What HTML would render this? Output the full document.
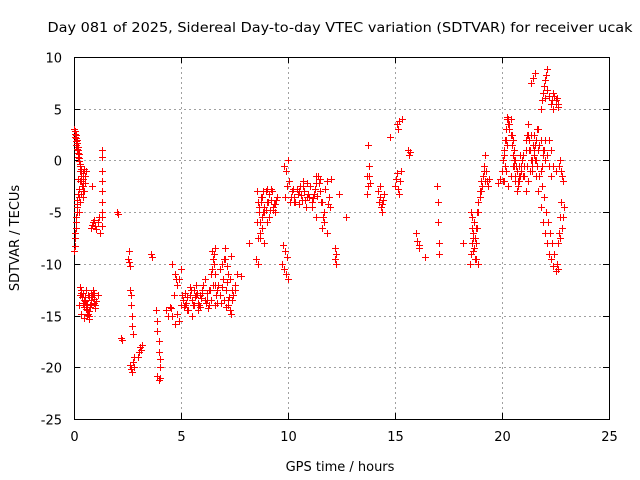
<!DOCTYPE html>
<html><head><meta charset="utf-8"><style>
html,body{margin:0;padding:0;background:#fff;width:640px;height:480px;overflow:hidden}
svg{display:block}
text{font-family:"DejaVu Sans","Liberation Sans",sans-serif;font-size:13px;fill:#000}
</style></head><body>
<svg id="chart" width="640" height="480" xmlns="http://www.w3.org/2000/svg">
<text x="340" y="32" text-anchor="middle" font-size="14" textLength="585" lengthAdjust="spacingAndGlyphs">Day 081 of 2025, Sidereal Day-to-day VTEC variation (SDTVAR) for receiver ucak</text>
<g id="grid"></g>
<g id="axes"></g>
<g id="marks"></g>
<text x="340" y="471" text-anchor="middle">GPS time / hours</text>
<text x="0" y="0" text-anchor="middle" transform="translate(19,238) rotate(-90)">SDTVAR / TECUs</text>
</svg>
<script>
const xTicks=[0,5,10,15,20,25];
const yTicks=[10,5,0,-5,-10,-15,-20,-25];
const hours=[0.02,0.05,0.08,0.1,0.12,0.15,0.18,0.2,0.22,0.25,0.3,0.35,0.4,0.45,0.5,0.55,
0.02,0.04,0.06,0.08,0.1,0.12,0.15,0.18,0.22,0.25,0.3,0.35,0.4,0.45,0.5,0.2,0.25,
0.25,0.3,0.35,0.4,0.45,0.5,0.55,0.6,0.65,0.7,0.75,0.8,0.85,0.9,0.95,1.0,1.05,1.1,0.3,0.35,0.45,0.6,0.7,0.8,
0.8,0.85,0.9,0.95,1.0,1.05,1.1,1.15,1.2,0.85,1.3,1.3,1.3,1.3,1.3,1.3,1.3,1.3,1.3,
2.0,2.05,2.2,2.25,2.5,2.55,2.55,2.6,2.6,2.65,2.65,2.7,2.7,2.75,2.6,2.65,2.7,2.75,2.8,2.8,3.0,3.05,3.1,3.15,3.2,3.6,3.65,
3.85,3.9,3.9,3.95,3.95,4.0,4.0,3.9,3.95,4.0,4.3,4.4,4.5,4.6,4.7,4.8,4.9,5.0,4.6,4.7,4.8,4.9,5.0,4.55,4.65,4.75,
5.1,5.2,5.3,5.4,5.5,5.6,5.7,5.8,5.9,6.0,6.1,6.2,6.3,6.4,6.5,6.6,6.7,6.8,6.9,7.0,7.1,7.2,7.3,7.4,7.5,
5.3,5.5,5.7,5.9,6.1,6.3,6.5,6.6,6.8,7.0,7.2,7.4,7.6,6.45,6.55,7.05,7.15,7.35,7.8,
8.2,8.5,8.6,8.7,8.8,8.9,9.0,8.55,8.65,8.75,8.85,8.95,9.1,9.2,9.3,9.4,9.5,8.6,8.8,9.0,9.2,9.4,
9.7,9.8,9.9,10.0,9.75,9.85,9.95,9.8,9.9,10.0,10.05,9.85,9.95,10.1,
10.2,10.3,10.4,10.5,10.6,10.7,10.8,10.9,11.0,11.1,11.2,11.3,11.4,11.5,11.6,11.7,11.8,11.9,12.0,
10.3,10.5,10.7,10.9,11.1,11.3,11.5,11.6,11.7,11.8,11.95,11.3,11.5,
12.2,12.2,12.25,12.25,12.4,12.7,13.7,13.7,13.75,13.75,13.8,13.85,13.8,
14.2,14.25,14.3,14.35,14.4,14.45,14.5,14.3,14.4,14.75,
15.0,15.05,15.1,15.15,15.2,15.25,15.3,15.1,15.15,15.2,15.35,15.6,15.65,15.7,
16.0,16.05,16.1,16.1,16.4,16.95,17.0,17.0,17.05,17.05,18.2,
18.5,18.55,18.6,18.65,18.7,18.75,18.8,18.85,18.9,18.95,19.0,18.6,18.7,18.8,18.9,19.05,19.1,19.15,19.2,19.25,19.3,19.35,19.4,18.55,18.65,
19.8,19.9,20.0,20.05,20.1,20.15,20.2,20.25,20.3,20.35,20.4,20.45,20.5,20.55,20.6,20.1,20.2,20.3,20.4,20.5,20.6,20.7,20.8,20.9,21.0,20.7,20.75,20.8,20.85,20.9,
21.0,21.05,21.1,21.15,21.2,21.25,21.3,21.35,21.4,21.45,21.5,21.55,21.6,21.1,21.2,21.3,21.4,21.5,21.6,21.7,21.8,21.9,22.0,
21.8,21.85,21.9,21.95,22.0,22.05,22.1,21.9,22.0,22.1,22.2,22.3,22.35,22.4,22.45,22.5,22.55,22.6,22.2,22.3,
21.6,21.7,21.8,21.9,22.0,22.1,22.2,22.3,22.4,22.5,22.6,22.7,22.8,22.85,22.9,22.65,22.7,22.75,22.8,22.85];
const sdtvar=[3.0,2.8,2.5,2.2,2.0,1.7,1.3,1.0,0.6,0.2,-0.3,-0.8,-1.2,-0.8,-1.5,-1.0,
-8.8,-8.3,-7.5,-6.5,-5.5,-4.5,-3.8,-3.2,-2.8,-3.5,-4.0,-3.2,-2.5,-3.0,-2.2,-1.8,-5.0,
-14.0,-13.0,-12.5,-12.8,-13.5,-13.2,-14.0,-14.5,-14.8,-15.0,-14.2,-13.5,-13.0,-12.5,-13.8,-14.3,-13.6,-13.0,-12.2,-14.8,-15.2,-14.0,-13.2,-12.8,
-6.5,-6.2,-6.0,-5.8,-6.3,-6.6,-6.0,-5.5,-7.0,-2.5,1.0,0.3,-1.0,-2.0,-3.0,-4.0,-5.0,-5.5,-6.3,
-5.0,-5.2,-17.2,-17.4,-9.5,-8.8,-9.8,-10.2,-12.5,-13.0,-14.0,-15.0,-16.0,-16.8,-19.8,-20.2,-20.5,-19.5,-19.0,-20.0,-19.0,-18.5,-18.0,-18.3,-17.8,-9.0,-9.3,
-14.5,-15.5,-16.5,-17.5,-18.5,-19.2,-20.0,-20.8,-21.2,-21.0,-14.5,-15.0,-14.2,-15.0,-15.8,-14.8,-15.5,-14.0,-10.0,-11.0,-12.0,-11.5,-10.5,-14.3,-13.0,-11.5,
-13.5,-12.8,-13.2,-12.2,-13.5,-14.0,-13.0,-13.8,-14.2,-12.5,-13.5,-12.8,-14.0,-13.5,-12.0,-11.0,-12.5,-13.0,-12.2,-13.5,-14.2,-14.0,-14.5,-13.5,-12.5,
-14.5,-15.0,-12.0,-13.0,-11.5,-12.5,-9.5,-8.5,-10.5,-9.5,-11.0,-12.5,-11.0,-8.8,-10.0,-8.5,-10.2,-9.2,-11.2,
-8.0,-9.5,-10.0,-7.5,-6.5,-5.0,-4.0,-6.0,-4.5,-3.5,-3.0,-4.8,-3.2,-3.8,-4.5,-4.2,-3.5,-7.5,-5.5,-6.0,-2.8,-5.0,
-10.0,-10.5,-11.0,-11.5,-8.2,-8.8,-9.3,-0.5,-1.0,0.0,-2.0,-3.5,-2.5,-4.0,
-3.0,-3.5,-2.8,-4.2,-3.3,-2.5,-3.8,-2.2,-3.5,-4.0,-3.2,-2.2,-1.5,-3.0,-4.0,-5.0,-2.0,-3.5,-1.8,
-4.0,-3.0,-2.0,-3.5,-4.5,-5.5,-3.0,-6.5,-6.0,-7.0,-4.5,-1.5,-1.8,
-8.5,-9.5,-9.0,-10.0,-3.2,-5.5,-3.2,-1.5,-2.5,1.5,-1.5,-2.2,-0.5,
-3.0,-4.0,-3.5,-4.5,-5.0,-3.8,-3.2,-2.5,-4.2,2.3,
-2.5,-1.8,-1.2,-2.8,-3.2,-2.0,-1.0,3.5,3.0,3.8,4.0,1.0,0.5,0.8,
-7.0,-7.8,-8.2,-8.5,-9.3,-2.5,-4.0,-6.0,-8.0,-9.0,-8.0,
-10.0,-9.0,-8.0,-7.0,-6.0,-7.5,-6.5,-5.0,-4.0,-3.0,-2.0,-5.5,-8.5,-9.5,-10.0,-2.5,-1.5,-0.5,0.5,-1.0,-2.0,-2.5,-1.8,-5.0,-8.8,
-2.2,-1.8,-1.0,0.0,1.0,2.0,3.0,4.2,4.0,3.5,2.5,1.5,0.5,-0.5,-1.5,-2.0,-1.0,-2.5,-1.5,-0.5,-2.0,-3.0,-1.5,-0.5,0.5,-1.0,-2.0,-0.5,0.5,-1.0,
-1.5,-0.5,1.0,2.5,3.5,2.0,1.0,0.0,-1.0,1.5,2.5,1.5,0.0,-3.0,-2.0,-1.0,0.0,1.0,2.0,3.0,2.0,1.0,0.0,
5.0,5.8,6.5,7.2,7.8,8.3,8.8,6.5,6.0,6.8,6.2,5.5,5.8,5.0,6.2,5.5,6.0,5.2,2.0,1.0,
-1.5,-3.0,-4.5,-6.0,-7.0,-8.0,-9.0,-9.5,-10.2,-10.7,-8.0,-7.5,-6.5,-5.5,-4.5,-0.5,0.0,-1.0,-1.5,-2.0];
const hoursExtra=[0.03,0.06,0.09,0.11,0.14,0.17,0.2,0.23,0.26,0.29,0.32,0.35,0.38,0.41,0.44,0.05,0.08,0.12,0.16,0.3,0.4,
0.32,0.38,0.42,0.48,0.52,0.58,0.62,0.68,0.72,0.78,0.82,0.88,0.92,0.98,0.55,0.65,0.75,0.95,
5.05,5.15,5.25,5.35,5.45,5.55,5.65,5.75,5.85,5.95,6.05,6.15,6.25,6.35,6.45,6.55,6.65,6.75,6.85,6.95,7.05,7.15,7.25,7.35,7.45,
5.2,5.4,5.6,5.8,6.0,6.2,6.4,6.6,6.7,6.9,7.1,7.3,7.5,6.6,7.2,
8.55,8.6,8.65,8.7,8.75,8.8,8.85,8.9,8.95,9.0,9.05,9.1,9.15,9.25,9.35,9.45,8.7,8.9,9.1,9.3,
10.15,10.25,10.35,10.45,10.55,10.65,10.75,10.85,10.95,11.05,11.15,11.25,11.35,11.45,11.55,11.65,11.75,11.85,
20.0,20.1,20.2,20.3,20.4,20.5,20.6,20.7,20.8,20.9,21.0,21.1,21.2,21.3,21.4,21.5,21.6,21.7,21.8,21.9,22.0,22.1,22.2,22.3,22.4,22.5,
20.05,20.15,20.25,20.35,20.45,20.55,20.65,20.75,20.85,20.95,21.05,21.15,21.25,21.35,21.45,21.55,21.65,21.75,21.85,21.95,
21.65,21.75,21.85,21.95,22.05,22.15,22.25,22.35,22.45,22.55,22.62,22.68,22.72,22.78,
18.6,18.65,18.7,18.75,18.8,18.85,18.9,18.95,19.0,19.05,19.1,19.15,19.2,
20.25,20.35,20.45,20.55,21.35,21.45,21.55,22.4,22.5,22.6];
const sdtvarExtra=[2.6,2.3,1.9,1.5,1.1,0.7,0.3,-0.1,-0.5,-1.0,-1.5,-2.0,-2.5,-3.0,-3.5,-7.0,-6.0,-5.0,-4.2,-2.0,-1.8,
-12.8,-13.2,-13.8,-14.2,-13.6,-14.4,-14.9,-15.3,-14.6,-13.9,-13.2,-12.8,-13.4,-14.0,-12.5,-13.0,-14.0,-12.8,
-13.0,-14.2,-13.8,-14.5,-12.5,-14.0,-13.2,-12.8,-14.0,-13.3,-12.0,-13.8,-14.3,-12.5,-10.5,-9.0,-13.0,-12.0,-13.8,-11.5,-9.5,-11.8,-13.2,-14.8,-13.0,
-14.0,-13.0,-12.5,-14.5,-12.8,-13.5,-11.0,-12.0,-13.8,-10.0,-12.5,-11.5,-12.0,-14.0,-13.5,
-3.0,-4.0,-5.0,-6.0,-4.0,-3.5,-5.0,-4.5,-3.0,-2.8,-4.0,-3.2,-4.8,-3.0,-4.2,-3.8,-7.0,-8.0,-5.5,-4.8,
-3.5,-2.8,-4.0,-3.2,-2.5,-3.8,-3.0,-4.5,-3.2,-2.5,-3.6,-2.8,-3.4,-2.2,-4.0,-5.5,-2.8,-4.2,
-1.0,0.5,2.0,3.5,4.0,2.0,0.0,-1.0,-2.0,-1.0,0.5,2.0,2.5,1.0,-0.5,0.5,2.0,1.0,-1.0,0.5,2.0,0.5,-0.5,-1.5,-0.5,-1.0,
-2.0,-0.5,1.5,3.0,2.5,1.0,-0.5,-2.5,-1.5,0.0,-1.5,-0.5,1.0,2.5,1.5,0.0,3.0,1.5,-0.5,1.0,
-0.5,-1.5,-2.5,-3.5,-5.0,-6.0,-7.0,-8.0,-9.0,-10.0,-10.5,-7.0,-5.5,-4.0,
-6.5,-7.5,-8.5,-9.5,-8.0,-6.5,-5.0,-3.5,-3.0,-2.5,-1.5,-1.0,-2.0,
4.0,3.0,1.5,0.0,7.5,8.0,8.5,6.5,5.8,5.5];

const X0=74,X1=609,Y0=419,Y1=57;
const xs=v=>X0+(v-0)/25*(X1-X0);
const ys=v=>Y0-(v+25)/35*(Y0-Y1);
const NS='http://www.w3.org/2000/svg';
function mk(tag,attrs,parent){const e=document.createElementNS(NS,tag);for(const k in attrs)e.setAttribute(k,attrs[k]);parent.appendChild(e);return e;}
const grid=document.getElementById('grid'),axes=document.getElementById('axes'),marks=document.getElementById('marks');
xTicks.forEach(t=>{
  const x=Math.round(xs(t))+0.5;
  if(t>0&&t<25){const g=mk('line',{x1:x,x2:x,y1:Y1,y2:Y0,stroke:'#a0a0a0','stroke-dasharray':'2,3','stroke-width':1},grid);
  
  }
  const tk=mk('line',{x1:x,x2:x,y1:Y0,y2:Y0-6,stroke:'#000'},axes);
  
  
  mk('line',{x1:x,x2:x,y1:Y1,y2:Y1+6,stroke:'#000'},axes);
  const lb=mk('text',{x:x,y:Y0+22,'text-anchor':'middle'},axes);lb.textContent=t;
  
  
});
yTicks.forEach(t=>{
  const y=Math.round(ys(t))+0.5;
  if(t>-25&&t<10){const g=mk('line',{x1:X0,x2:X1,y1:y,y2:y,stroke:'#a0a0a0','stroke-dasharray':'2,3','stroke-width':1},grid);
  
  }
  const tk=mk('line',{x1:X0,x2:X0+6,y1:y,y2:y,stroke:'#000'},axes);
  
  
  mk('line',{x1:X1,x2:X1-6,y1:y,y2:y,stroke:'#000'},axes);
  const lb=mk('text',{x:X0-12,y:y+5,'text-anchor':'end'},axes);lb.textContent=t;
  
  
});
const fr=mk('rect',{x:X0+0.5,y:Y1+0.5,width:X1-X0,height:Y0-Y1,fill:'none',stroke:'#000','stroke-width':1},axes);


const allH=hours.concat(hoursExtra), allV=sdtvar.concat(sdtvarExtra);
let d='';
for(let i=0;i<allH.length&&i<allV.length;i++){
  const x=Math.round(xs(allH[i]))+0.5,y=Math.round(ys(allV[i]))+0.5;
  d+=`M${x-3.5},${y}H${x+3.5}M${x},${y-3.5}V${y+3.5}`;
}
const p=mk('path',{d:d,stroke:'#ff0000','stroke-width':1,fill:'none','shape-rendering':'crispEdges'},marks);


</script>
</body></html>
